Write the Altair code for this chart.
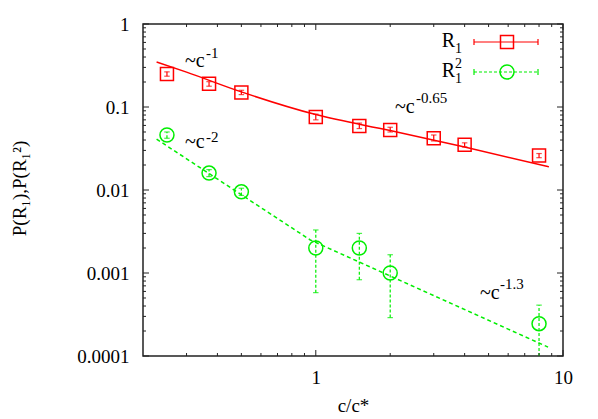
import altair as alt
import pandas as pd

# ---- data ----
conc = [0.25, 0.37, 0.5, 1.0, 1.5, 2.0, 3.0, 4.0, 8.0]
r1 = [0.25, 0.19, 0.15, 0.076, 0.059, 0.053, 0.042, 0.035, 0.026]
r1_lo = [0.235, 0.178, 0.141, 0.070, 0.055, 0.050, 0.039, 0.033, 0.0245]
r1_hi = [0.265, 0.202, 0.159, 0.082, 0.064, 0.057, 0.046, 0.037, 0.0275]

conc2 = [0.25, 0.37, 0.5, 1.0, 1.5, 2.0, 8.0]
r12 = [0.046, 0.016, 0.0095, 0.002, 0.002, 0.001, 0.000245]
r12_lo = [0.042, 0.0145, 0.0086, 0.00058, 0.00083, 0.00029, 0.00005]
r12_hi = [0.050, 0.0176, 0.0105, 0.0033, 0.0030, 0.00166, 0.00041]

fit1_x = [0.227, 0.3, 0.5, 1.0, 2.0, 4.0, 8.77]
fit1_y = [0.348, 0.263, 0.152, 0.081, 0.052, 0.033, 0.019]
fit2_x = [0.227, 0.95, 8.7]
fit2_y = [0.041, 0.0025, 0.000128]

x_major = [1, 10]
x_minor = [0.3, 0.4, 0.5, 0.6, 0.7, 0.8, 0.9, 2, 3, 4, 5, 6, 7, 8, 9]
y_major = [1, 0.1, 0.01, 0.001, 0.0001]
y_minor = [m * d for d in [0.0001, 0.001, 0.01, 0.1] for m in range(2, 10)]

RED = "#ff0000"
GREEN = "#00ee00"
FRAME = "#222222"
FONT = "Liberation Serif"
W, H = 420, 332

d1 = pd.DataFrame({"c": conc, "p": r1, "lo": r1_lo, "hi": r1_hi})
d2 = pd.DataFrame({"c": conc2, "p": r12, "lo": r12_lo, "hi": r12_hi})
f1 = pd.DataFrame({"c": fit1_x, "p": fit1_y})
f2 = pd.DataFrame({"c": fit2_x, "p": fit2_y})
one = pd.DataFrame({"a": [0]})

xs = alt.Scale(type="log", domain=[0.2, 10], nice=False)
ys = alt.Scale(type="log", domain=[0.0001, 1], nice=False)

XAX = alt.Axis(
    values=x_major, format="~g", ticks=False, domain=False, grid=False,
    labelFont=FONT, labelFontSize=19, labelPadding=12, labelColor="black",
    labelFlush=False, labelOverlap=False,
    title="c/c*", titleFont=FONT, titleFontSize=19, titleFontWeight="normal",
    titlePadding=9, titleColor="black")
YAX = alt.Axis(
    values=y_major, format="~g", ticks=False, domain=False, grid=False,
    labelFont=FONT, labelFontSize=19, labelPadding=14, labelColor="black",
    labelFlush=False, labelOverlap=False,
    title="P(R₁),P(R₁²)", titleFont=FONT, titleFontSize=19,
    titleFontWeight="normal", titleColor="black", titleX=-114, titleY=164)


def X(f="c"):
    return alt.X(f"{f}:Q", scale=xs, axis=XAX)


def Y(f="p"):
    return alt.Y(f"{f}:Q", scale=ys, axis=YAX)


layers = []

# fitted lines
layers.append(alt.Chart(f1).mark_line(color=RED, strokeWidth=1.5, interpolate="monotone", clip=True)
              .encode(x=X(), y=Y()))
layers.append(alt.Chart(f2).mark_line(color=GREEN, strokeWidth=1.5, strokeDash=[4, 3], clip=True)
              .encode(x=X(), y=Y()))

cap = "M-1,0L1,0"
# red error bars
layers.append(alt.Chart(d1).mark_rule(color=RED, strokeWidth=1.2)
              .encode(x=X(), y=Y("lo"), y2="hi:Q"))
for f in ["lo", "hi"]:
    layers.append(alt.Chart(d1).mark_point(shape=cap, size=30, filled=False, color=RED, strokeWidth=1.2)
                  .encode(x=X(), y=Y(f)))
layers.append(alt.Chart(d1).mark_point(shape="square", size=169, filled=False, color=RED, strokeWidth=1.5, opacity=1)
              .encode(x=X(), y=Y()))

# green error bars
layers.append(alt.Chart(d2).mark_rule(color=GREEN, strokeWidth=1.2, strokeDash=[3, 2], clip=True)
              .encode(x=X(), y=Y("lo"), y2="hi:Q"))
for f in ["lo", "hi"]:
    layers.append(alt.Chart(d2).mark_point(shape=cap, size=30, filled=False, color=GREEN, strokeWidth=1.2, clip=True)
                  .encode(x=X(), y=Y(f)))
layers.append(alt.Chart(d2).mark_point(shape="circle", size=196, filled=False, color=GREEN, strokeWidth=1.5, opacity=1)
              .encode(x=X(), y=Y()))


# ticks (inward, all four sides)
def tick_layer(vals, horizontal, side, length):
    df = pd.DataFrame({"v": vals})
    if horizontal:  # x ticks
        enc = dict(x=X("v"))
        if side == "bottom":
            enc.update(y=alt.value(H), y2=alt.value(H - length))
        else:
            enc.update(y=alt.value(0), y2=alt.value(length))
    else:
        enc = dict(y=Y("v"))
        if side == "left":
            enc.update(x=alt.value(0), x2=alt.value(length))
        else:
            enc.update(x=alt.value(W), x2=alt.value(W - length))
    return alt.Chart(df).mark_rule(color=FRAME, strokeWidth=1).encode(**enc)


for side in ["bottom", "top"]:
    layers.append(tick_layer(x_major, True, side, 6))
    layers.append(tick_layer(x_minor, True, side, 3))
for side in ["left", "right"]:
    layers.append(tick_layer(y_major, False, side, 6))
    layers.append(tick_layer(y_minor, False, side, 3))


# text helpers
def txt(s, x, y, size=19, align="left"):
    return alt.Chart(one).mark_text(font=FONT, fontSize=size, align=align, baseline="alphabetic",
                                    color="black").encode(x=alt.value(x), y=alt.value(y), text=alt.value(s))


annotations = [
    ("~c", "-1", 42, 43, 63, 34),
    ("~c", "-2", 42, 124, 63, 118),
    ("~c", "-0.65", 252, 89, 273, 79),
    ("~c", "-1.3", 337, 275, 357, 265),
]
for base, sup, bx, by, sx, sy in annotations:
    layers.append(txt(base, bx, by, size=20))
    layers.append(txt(sup, sx, sy, size=15))

# legend
legend_rows = [(18, RED, "square", 169, None), (48, GREEN, "circle", 196, [3, 2])]
for ly, col, shp, sz, dash in legend_rows:
    kw = dict(color=col, strokeWidth=1.2)
    if dash:
        kw["strokeDash"] = dash
    layers.append(alt.Chart(one).mark_rule(**kw).encode(
        x=alt.value(331), x2=alt.value(395), y=alt.value(ly)))
    for cx in [331, 395]:
        layers.append(alt.Chart(one).mark_rule(color=col, strokeWidth=1.2).encode(
            x=alt.value(cx), y=alt.value(ly - 3), y2=alt.value(ly + 3)))
    layers.append(alt.Chart(one).mark_point(shape=shp, size=sz, filled=False, color=col,
                                            strokeWidth=1.5, opacity=1).encode(
        x=alt.value(364), y=alt.value(ly)))

layers.append(txt("R", 312, 23, size=20, align="right"))
layers.append(txt("1", 312, 29, size=14))
layers.append(txt("R", 312, 53, size=20, align="right"))
layers.append(txt("2", 312, 44, size=14))
layers.append(txt("1", 312, 59, size=14))

chart = alt.layer(*layers).properties(
    width=W, height=H,
    autosize=alt.AutoSizeParams(type="none"),
    padding={"left": 135, "top": 16, "right": 27, "bottom": 62},
    background="white",
).configure_view(stroke=FRAME, strokeWidth=1.5)

chart.save("out.html", embed_options={"renderer": "svg", "actions": False})
